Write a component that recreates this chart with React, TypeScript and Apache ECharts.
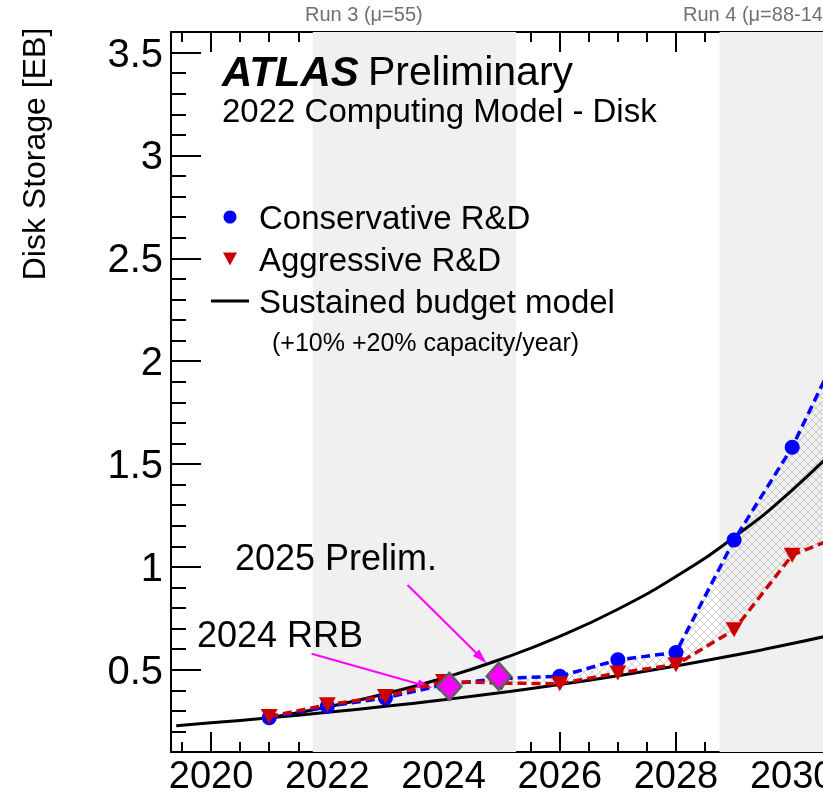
import React, { useEffect, useRef } from 'react';
import * as echarts from 'echarts';

// ---- data ----
const rdYears = [2021, 2022, 2023, 2024, 2025, 2026, 2027, 2028, 2029, 2030, 2031];
const conservative = [0.266, 0.322, 0.363, 0.427, 0.458, 0.468, 0.548, 0.584, 1.13, 1.582, 2.17];
const aggressive = [0.272, 0.33, 0.37, 0.443, 0.435, 0.432, 0.484, 0.524, 0.694, 1.057, 1.17];

const budgetLowYears = [2019.4, 2020, 2021, 2022, 2023, 2024, 2025, 2026, 2027, 2028, 2029, 2030, 2031];
const budgetLow = [0.228, 0.242, 0.266, 0.293, 0.322, 0.354, 0.389, 0.428, 0.471, 0.518, 0.57, 0.627, 0.69];
const budgetHighYears = [2021, 2022, 2023, 2024, 2025, 2026, 2027, 2028, 2029, 2030, 2031];
const budgetHigh = [0.266, 0.319, 0.383, 0.46, 0.552, 0.662, 0.794, 0.953, 1.144, 1.373, 1.647];

const pledgeYears = [2024.1, 2024.95];
const pledgeValues = [0.419, 0.468];
const pledgeNames = ['2024 RRB', '2025 Prelim.'];
const arrowFrom = [[2021.73, 0.578], [2023.38, 0.912]];
const arrowTo = [[2023.68, 0.422], [2024.65, 0.557]];

const runBands = [[2021.75, 2025.25], [2028.75, 2031]];
const runLabels = ['Run 3 (\u03bc=55)', 'Run 4 (\u03bc=88-140)'];

const xMajorTicks = [2020, 2022, 2024, 2026, 2028, 2030];
const yMajorTicks = [0.5, 1, 1.5, 2, 2.5, 3, 3.5];
const X_MIN = 2019.31;
const X_MAX = 2030.53;
const Y_MIN = 0.1;
const Y_MAX = 3.6;

const FONT = '"Liberation Sans", Arial, Helvetica, sans-serif';

function minorTicks(from: number, to: number, step: number, majors: number[]) {
  const out: number[] = [];
  const n = Math.round((to - from) / step);
  for (let i = 0; i <= n; i++) {
    const v = Math.round((from + i * step) * 100) / 100;
    if (!majors.some((m) => Math.abs(m - v) < 1e-6)) out.push(v);
  }
  return out;
}

export default function App() {
  const ref = useRef<HTMLDivElement>(null);
  useEffect(() => {
    document.body.style.margin = '0';
    document.body.style.overflow = 'hidden';
    document.documentElement.style.overflow = 'hidden';
    if (!ref.current) return;
    const chart = echarts.init(ref.current, undefined, { renderer: 'svg' });

    const S = 8;
    const cv = document.createElement('canvas');
    cv.width = S;
    cv.height = S;
    const ctx = cv.getContext('2d')!;
    ctx.strokeStyle = 'rgba(140,140,140,0.5)';
    ctx.lineWidth = 0.8;
    ctx.beginPath();
    ctx.moveTo(0, 0);
    ctx.lineTo(S, S);
    ctx.moveTo(S, 0);
    ctx.lineTo(0, S);
    ctx.stroke();
    const hatch: any = { type: 'pattern', image: cv, repeat: 'repeat', imageWidth: S, imageHeight: S };

    const xMinor = minorTicks(2019.5, 2030.5, 0.5, xMajorTicks);
    const yMinor = minorTicks(0.2, 3.5, 0.1, yMajorTicks);

    const axisLineStyle = { color: '#000', width: 2 };
    const baseX = { type: 'value', min: X_MIN, max: X_MAX, splitLine: { show: false } };
    const baseY = { type: 'value', min: Y_MIN, max: Y_MAX, splitLine: { show: false } };

    const text = (t: string, x: number, y: number, size: number, extra: any = {}) => ({
      type: 'text',
      x,
      y,
      silent: true,
      z: 100,
      ...extra,
      style: {
        text: t,
        fontSize: size,
        fontFamily: FONT,
        fill: '#000',
        textVerticalAlign: 'middle',
        verticalAlign: 'middle',
        ...(extra.style || {}),
      },
    });

    const option: any = {
      animation: false,
      textStyle: { fontFamily: FONT },
      grid: { left: 171, top: 32, right: 0, bottom: 45, containLabel: false, outerBoundsMode: 'none' },
      xAxis: [
        {
          ...baseX,
          position: 'bottom',
          axisLine: { show: true, lineStyle: axisLineStyle },
          axisTick: { show: true, inside: true, length: 20, customValues: xMajorTicks, lineStyle: { color: '#000', width: 2 } },
          axisLabel: {
            show: true,
            customValues: xMajorTicks,
            fontSize: 38,
            lineHeight: 30,
            color: '#000',
            margin: 8,
            formatter: (v: number) => String(v),
          },
        },
        {
          ...baseX,
          position: 'bottom',
          axisLine: { show: false },
          axisTick: { show: true, inside: true, length: 10, customValues: xMinor, lineStyle: { color: '#000', width: 2 } },
          axisLabel: { show: false },
        },
        {
          ...baseX,
          position: 'top',
          axisLine: { show: true, lineStyle: axisLineStyle },
          axisTick: { show: true, inside: true, length: 20, customValues: xMajorTicks, lineStyle: { color: '#000', width: 2 } },
          axisLabel: { show: false },
        },
        {
          ...baseX,
          position: 'top',
          axisLine: { show: false },
          axisTick: { show: true, inside: true, length: 10, customValues: xMinor, lineStyle: { color: '#000', width: 2 } },
          axisLabel: { show: false },
        },
      ],
      yAxis: [
        {
          ...baseY,
          position: 'left',
          axisLine: { show: true, lineStyle: axisLineStyle },
          axisTick: { show: true, inside: true, length: 30, customValues: yMajorTicks, lineStyle: { color: '#000', width: 2 } },
          axisLabel: { show: true, customValues: yMajorTicks, fontSize: 40, color: '#000', margin: 8, formatter: (v: number) => String(v) },
        },
        {
          ...baseY,
          position: 'left',
          axisLine: { show: false },
          axisTick: { show: true, inside: true, length: 15, customValues: yMinor, lineStyle: { color: '#000', width: 2 } },
          axisLabel: { show: false },
        },
      ],
      legend: {
        orient: 'vertical',
        left: 206,
        top: 194,
        itemWidth: 38,
        itemHeight: 13,
        itemGap: 6,
        selectedMode: false,
        textStyle: { fontSize: 33, color: '#000', lineHeight: 36, padding: [0, 0, 0, 5], fontFamily: FONT },
        data: [
          { name: 'Conservative R&D', icon: 'circle' },
          { name: 'Aggressive R&D', icon: 'path://M0,0L14,0L7,13Z' },
          { name: 'Sustained budget model', icon: 'path://M0,0L38,0L38,3L0,3Z' },
        ],
      },
      series: [
        {
          name: 'Sustained budget model',
          type: 'line',
          smooth: true,
          symbol: 'none',
          color: '#000',
          lineStyle: { color: '#000', width: 3 },
          data: budgetLowYears.map((y, i) => [y, budgetLow[i]]),
          z: 3,
          markArea: {
            silent: true,
            itemStyle: { color: '#f0f0f0' },
            data: runBands.map((b) => [{ xAxis: b[0] }, { xAxis: b[1] }]),
          },
        },
        {
          name: 'hatch',
          type: 'custom',
          clip: true,
          silent: true,
          z: 2,
          data: rdYears.map((y, i) => [y, conservative[i], aggressive[i]]),
          encode: { x: 0, y: 1 },
          renderItem: (params: any, api: any) => {
            const i = params.dataIndex;
            if (i >= rdYears.length - 1) return { type: 'group', children: [] };
            const p1 = api.coord([rdYears[i], conservative[i]]);
            const p2 = api.coord([rdYears[i + 1], conservative[i + 1]]);
            const p3 = api.coord([rdYears[i + 1], aggressive[i + 1]]);
            const p4 = api.coord([rdYears[i], aggressive[i]]);
            return { type: 'polygon', shape: { points: [p1, p2, p3, p4] }, style: { fill: hatch, stroke: null } };
          },
        },
        {
          name: 'Sustained budget model',
          type: 'line',
          smooth: true,
          symbol: 'none',
          color: '#000',
          lineStyle: { color: '#000', width: 3 },
          data: budgetHighYears.map((y, i) => [y, budgetHigh[i]]),
          z: 3,
        },
        {
          name: 'Conservative R&D',
          type: 'line',
          symbol: 'circle',
          symbolSize: 15,
          color: '#0000ff',
          itemStyle: { color: '#0000ff' },
          lineStyle: { color: '#0000ff', width: 3.5, type: [9, 5] },
          data: rdYears.map((y, i) => [y, conservative[i]]),
          z: 4,
        },
        {
          name: 'Aggressive R&D',
          type: 'line',
          symbol: 'triangle',
          symbolRotate: 180,
          symbolSize: [17, 15],
          color: '#cc0000',
          itemStyle: { color: '#cc0000' },
          lineStyle: { color: '#cc0000', width: 3.5, type: [9, 5] },
          data: rdYears.map((y, i) => [y, aggressive[i]]),
          z: 5,
        },
        {
          name: 'Pledges',
          type: 'scatter',
          symbol: 'diamond',
          symbolSize: [24, 27],
          itemStyle: { color: '#ff00ff', borderColor: '#606060', borderWidth: 2.5, opacity: 1 },
          data: pledgeYears.map((y, i) => ({ name: pledgeNames[i], value: [y, pledgeValues[i]] })),
          z: 6,
          markLine: {
            silent: true,
            symbol: ['none', 'triangle'],
            symbolSize: [9, 15],
            label: { show: false },
            lineStyle: { color: '#ff00ff', width: 2, type: 'solid', opacity: 1 },
            data: arrowFrom.map((f, i) => [{ coord: f }, { coord: arrowTo[i] }]),
          },
        },
      ],
      graphic: [
        text('ATLAS', 222, 71, 42, { style: { fontStyle: 'italic', fontWeight: 'bold' } }),
        text('Preliminary', 368, 71, 41),
        text('2022 Computing Model - Disk', 222, 110, 33),
        text('(+10% +20% capacity/year)', 272, 342, 25),
        text('2025 Prelim.', 235, 557, 36),
        text('2024 RRB', 197, 634, 36),
        text(runLabels[0], 305, 14, 20, { style: { fill: '#707070' } }),
        text(runLabels[1], 683, 14, 20, { style: { fill: '#707070' } }),
        text('Disk Storage [EB]', 34, 154, 32, {
          rotation: Math.PI / 2,
          style: { textAlign: 'center', align: 'center' },
        }),
      ],
    };
    chart.setOption(option);
    return () => chart.dispose();
  }, []);
  return <div ref={ref} style={{ position: 'fixed', left: 0, top: 0, width: 823, height: 797 }} />;
}
